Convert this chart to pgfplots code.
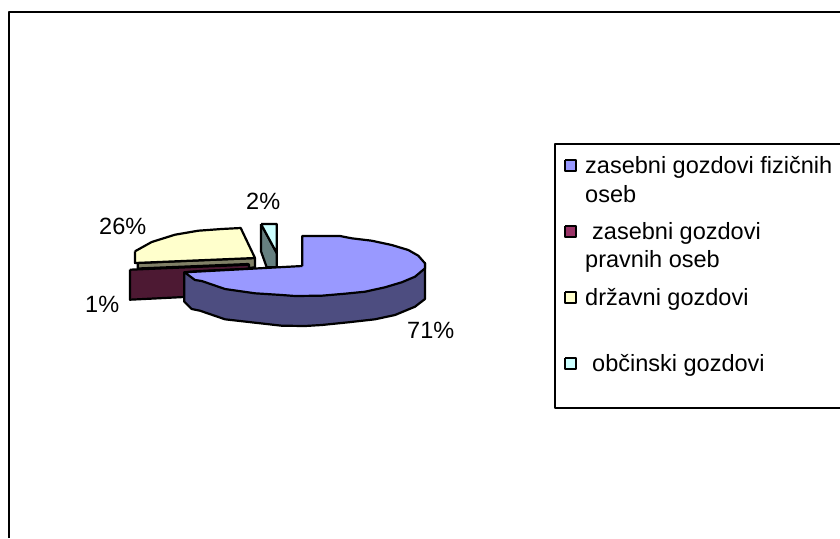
\documentclass[border=0pt]{standalone}
\usepackage{fontspec}
\setmainfont{Liberation Sans}
\usepackage{pgfplots}
\pgfplotsset{compat=1.18}
\definecolor{blueT}{HTML}{9999FF}
\definecolor{blueS}{HTML}{4D4D80}
\definecolor{marS}{HTML}{4D1933}
\definecolor{marL}{HTML}{993366}
\definecolor{yelT}{HTML}{FFFFCC}
\definecolor{yelS}{HTML}{808066}
\definecolor{cyaT}{HTML}{CCFFFF}
\definecolor{cyaS}{HTML}{668080}
\tikzset{lab/.style={anchor=base west, inner sep=0pt, font=\fontsize{23.6}{28}\selectfont}}
\begin{document}
\begin{tikzpicture}
\begin{axis}[
  name=ax, scale only axis, width=840bp, height=538bp,
  xmin=0, xmax=840, ymin=0, ymax=538, y dir=reverse,
  hide axis, clip=true,
  every axis plot/.append style={line width=2.2bp, draw=black, line join=round},
]
% outer frame
\addplot[no marks] coordinates {(9,538) (9,12) (840,12)};
% cyan slice
\addplot[fill=cyaS, no marks] coordinates {(261,224) (276.7,253) (276.7,267.3) (266.7,267.3) (261,251.3) (261,224)};
\addplot[fill=cyaT, no marks] coordinates {(261,224) (276.7,224) (276.7,253) (261,224)};
% yellow slice
\addplot[fill=yelS, no marks] coordinates {(137.7,263) (255,258) (255,267.3) (249,268) (248.3,264) (137.7,268.5) (137.7,263)};
\addplot[fill=yelT, no marks] coordinates {(135,251.3) (135,263) (255,258) (240.7,228) (221.7,229) (198.3,230.7) (175,234.7) (151.7,242) (135,251.3)};
% maroon slice
\addplot[fill=marS, no marks] coordinates {(130,269.7) (249,264.7) (249,268.7) (200,271) (184.3,272.3) (184.3,297) (130,299.7) (130,269.7)};
% blue slice
\addplot[fill=blueS, no marks] coordinates {(184.3,272.3) (184.3,301.7) (191.7,309) (200,310.7) (225,319.3) (255,322.7) (281.7,325.7) (305,326) (321.7,325) (348.3,322.3) (375,319.3) (395,315) (415,306.7) (425,299) (425,263.3) (184.3,272.3)};
\addplot[fill=blueT, no marks] coordinates {(302.3,266) (302.3,236) (340,236) (351.7,238.3) (371.7,240.7) (391.7,245) (408.3,250) (418.3,255.7) (425,263.3) (425,268.3) (415,276.7) (401.7,282.3) (385,287.3) (365,291.7) (345,293.7) (321.7,295.7) (295,296) (281.7,295) (255,293.3) (225,289) (201.7,281) (195,280) (188.3,275) (184.3,272.3) (302.3,266)};
% legend frame
\addplot[fill=white, no marks] coordinates {(840,144) (555,144) (555,408) (840,408)};
% legend keys
\addplot[fill=blueT, no marks, line width=1.5bp] coordinates {(565,160) (576,160) (576,171) (565,171) (565,160)};
\addplot[fill=marL, no marks, line width=1.5bp] coordinates {(565,226) (576,226) (576,237) (565,237) (565,226)};
\addplot[fill=yelT, no marks, line width=1.5bp] coordinates {(565,292) (576,292) (576,303) (565,303) (565,292)};
\addplot[fill=cyaT, no marks, line width=1.5bp] coordinates {(565,358) (576,358) (576,369) (565,369) (565,358)};
\node[lab] at (axis cs:585,173) {zasebni gozdovi fizičnih};
\node[lab] at (axis cs:585,202) {oseb};
\node[lab] at (axis cs:592,239) {zasebni gozdovi};
\node[lab] at (axis cs:585,267) {pravnih oseb};
\node[lab] at (axis cs:585,305) {državni gozdovi};
\node[lab] at (axis cs:592,371) {občinski gozdovi};
\node[lab] at (axis cs:246,209.5) {2\%};
\node[lab] at (axis cs:99,234) {26\%};
\node[lab] at (axis cs:85,312) {1\%};
\node[lab] at (axis cs:407,338) {71\%};
\end{axis}
\pgfresetboundingbox
\path[use as bounding box] (ax.south west) rectangle (ax.north east);
\end{tikzpicture}
\end{document}
